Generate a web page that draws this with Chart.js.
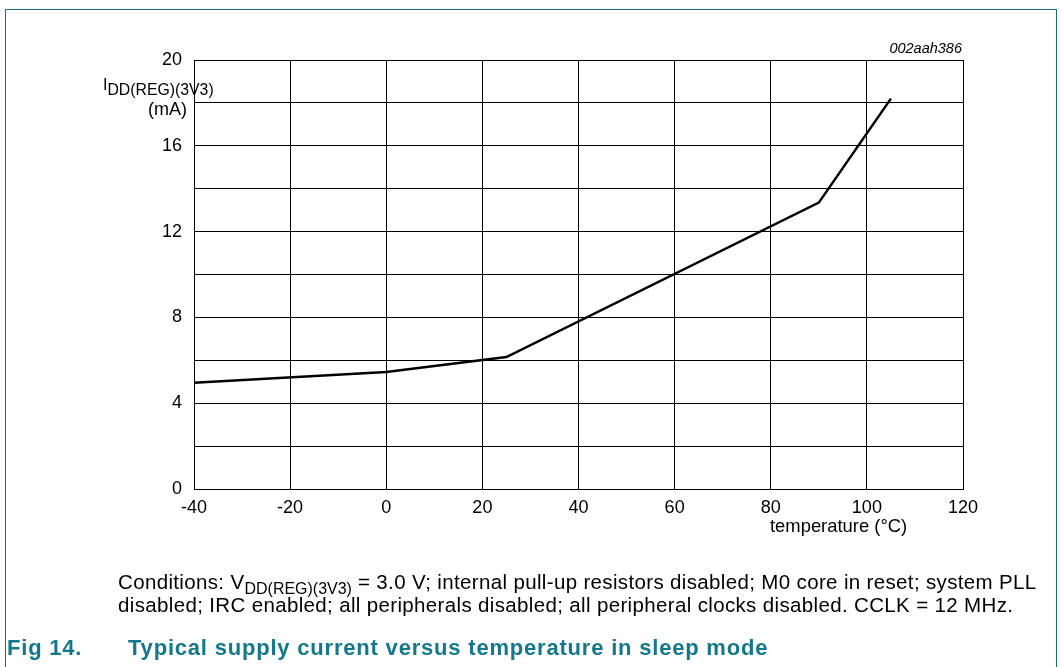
<!DOCTYPE html>
<html>
<head>
<meta charset="utf-8">
<script src="https://cdn.jsdelivr.net/npm/chart.js@4"></script>
<style>
  body { margin: 0; background: #fff; }
  #wrap { position: relative; width: 1061px; height: 667px; overflow: hidden; font-family: 'Liberation Sans', Arial, sans-serif; color: #000; }
  #wrap canvas { position: absolute; left: 0; top: 0; }
  .txt { position: absolute; white-space: nowrap; line-height: 1; }
  .frame { position: absolute; left: 5px; top: 9px; width: 1050px; height: 700px; border: 1.5px solid #1b6f83; border-bottom: none; }
  .cond { font-size: 20.5px; letter-spacing: 0.35px; }
  .cond sub { font-size: 0.78em; vertical-align: -0.3em; letter-spacing: 0; }
  .ttl { font-size: 22px; font-weight: bold; color: #14788c; letter-spacing: 0.8px; }
  .ylab sub { font-size: 15.8px; vertical-align: -5px; }
</style>
</head>
<body>
<div id="wrap">
  <div class="frame"></div>
  <canvas id="c" width="1061" height="667"></canvas>
  <div class="txt" style="right:99px;top:41px;font-size:14.5px;font-style:italic">002aah386</div>
  <div class="txt ylab" style="left:103px;top:77px;font-size:16px">I<sub>DD(REG)(3V3)</sub></div>
  <div class="txt" style="right:874px;top:100px;font-size:18px">(mA)</div>
  <div class="txt" style="left:770px;top:517px;font-size:18.4px">temperature (°C)</div>
  <div class="txt cond" style="left:118px;top:572px">Conditions: V<sub>DD(REG)(3V3)</sub> = 3.0 V; internal pull-up resistors disabled; M0 core in reset; system PLL</div>
  <div class="txt cond" style="left:118px;top:595px">disabled; IRC enabled; all peripherals disabled; all peripheral clocks disabled. CCLK = 12 MHz.</div>
  <div class="txt ttl" style="left:7px;top:637px">Fig 14.</div>
  <div class="txt ttl" style="left:128px;top:637px">Typical supply current versus temperature in sleep mode</div>
</div>
<script>
// temperatura (°C) x corrente IDD(REG)(3V3) (mA)
const temps = [-40, 0, 25, 90, 105];
const current = [4.95, 5.45, 6.15, 13.35, 18.2];
const xTicks = [-40, -20, 0, 20, 40, 60, 80, 100, 120];
const yTicks = [0, 4, 8, 12, 16, 20];

const tickFont = { family: "'Liberation Sans', Arial, sans-serif", size: 18 };

new Chart(document.getElementById('c'), {
  type: 'line',
  data: {
    datasets: [{
      data: temps.map((t, i) => ({ x: t, y: current[i] })),
      borderColor: '#000',
      borderWidth: 2.5,
      pointRadius: 0,
      tension: 0,
      fill: false
    }]
  },
  options: {
    responsive: false,
    animation: false,
    layout: { padding: { left: 0, right: 98, top: 60, bottom: 138 } },
    plugins: { legend: { display: false }, tooltip: { enabled: false } },
    scales: {
      x: {
        type: 'linear',
        min: xTicks[0], max: xTicks[xTicks.length - 1],
        afterBuildTicks: s => { s.ticks = xTicks.map(v => ({ value: v })); },
        afterFit: s => { s.height = 40; },
        grid: { color: '#000', lineWidth: 1, drawTicks: false },
        border: { color: '#000', width: 1 },
        ticks: { color: '#000', font: tickFont, padding: 8, maxRotation: 0 }
      },
      y: {
        min: 0, max: 20,
        ticks: {
          stepSize: 2, color: '#000', font: tickFont, padding: 12,
          callback: v => yTicks.includes(v) ? String(v) : ''
        },
        afterFit: s => { s.width = 194; },
        grid: { color: '#000', lineWidth: 1, drawTicks: false },
        border: { color: '#000', width: 1 }
      }
    }
  }
});
</script>
</body>
</html>
